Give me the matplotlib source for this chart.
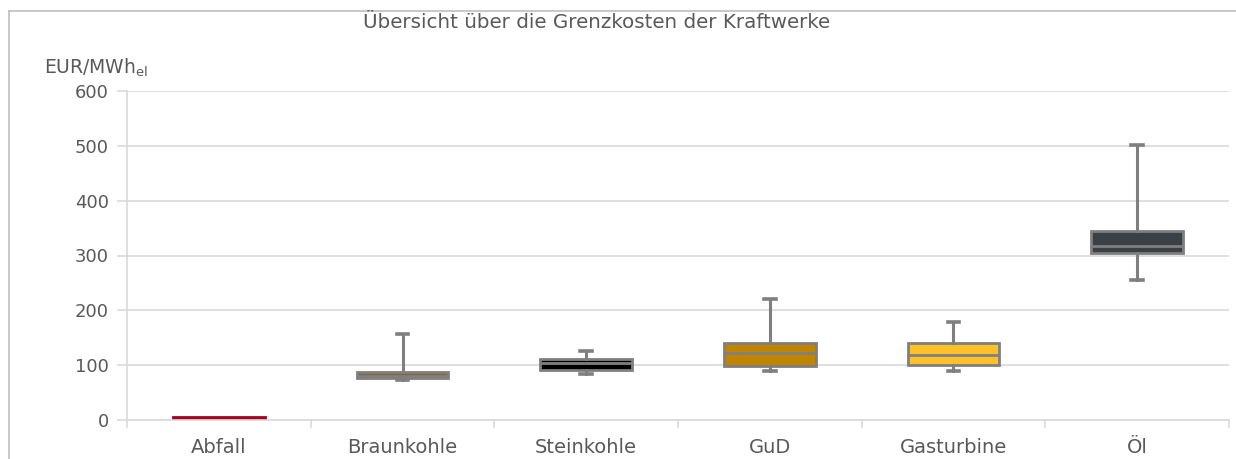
import numpy as np
import matplotlib
matplotlib.use("Agg")
import matplotlib.pyplot as plt
from matplotlib.lines import Line2D

# Grenzkosten je Kraftwerkstyp (EUR/MWh_el)
kategorien = ["Abfall", "Braunkohle", "Steinkohle", "GuD", "Gasturbine", "Öl"]
whisker_min = [1, 73, 83, 89, 89, 255]
q1 = [1, 76, 92, 99, 101, 305]
median = [4, 80, 104, 123, 118, 317]
q3 = [6, 88, 111, 141, 140, 345]
whisker_max = [6, 156, 125, 221, 179, 502]
farben = ["#A50021", "#7F6A2E", "#000000", "#BF8400", "#FFC02A", "#3B4046"]

GRAU = "#595959"
RAHMEN = "#D9D9D9"

plt.rcParams["font.family"] = "DejaVu Sans"

fig = plt.figure(figsize=(12.36, 4.59), dpi=100)
ax = fig.add_axes([127/1236, 1 - 420/459, (1229 - 127)/1236, (420 - 91)/459])

stats = []
for i, k in enumerate(kategorien):
    stats.append(dict(label=k, whislo=whisker_min[i], q1=q1[i], med=median[i],
                      q3=q3[i], whishi=whisker_max[i], fliers=[]))

bp = ax.bxp(stats, positions=np.arange(1, 7), widths=0.5, patch_artist=True,
            showfliers=False, capwidths=0.065,
            boxprops=dict(edgecolor="#7F7F7F", linewidth=2),
            whiskerprops=dict(color="#7F7F7F", linewidth=2.2),
            capprops=dict(color="#7F7F7F", linewidth=2.6),
            medianprops=dict(color="#7F7F7F", linewidth=2))
for box, c in zip(bp["boxes"], farben):
    box.set_facecolor(c)
# Abfall: nur ein dünner roter Balken
bp["boxes"][0].set_edgecolor(farben[0])
bp["medians"][0].set_color(farben[0])
for a in bp["caps"][:2] + bp["whiskers"][:2]:
    a.set_visible(False)

ax.set_xlim(0.5, 6.5)
ax.set_ylim(0, 600)
ax.set_yticks(np.arange(0, 601, 100))
ax.yaxis.grid(True, color=RAHMEN, linewidth=1.2)
ax.set_axisbelow(True)
for s in ["top", "right"]:
    ax.spines[s].set_visible(False)
for s in ["left", "bottom"]:
    ax.spines[s].set_color(RAHMEN)
    ax.spines[s].set_linewidth(1.2)
ax.set_xticks(np.arange(1, 7))
ax.set_xticklabels(kategorien)
ax.set_xticks(np.arange(0.5, 6.6, 1), minor=True)
ax.tick_params(axis="x", which="major", length=0, pad=13, labelsize=14, labelcolor=GRAU)
ax.tick_params(axis="x", which="minor", length=6, width=1.2, color=RAHMEN)
ax.tick_params(axis="y", length=7, width=1.2, color=RAHMEN, labelsize=13,
               labelcolor=GRAU, pad=6)

fig.text(597/1236, 1 - 22/459, "Übersicht über die Grenzkosten der Kraftwerke",
         ha="center", va="center", fontsize=14.3, color=GRAU)
fig.text(44/1236, 1 - 68/459, r"EUR/MWh$_\mathregular{el}$",
         ha="left", va="center", fontsize=13.5, color=GRAU)

# Diagrammrahmen (rechts und unten abgeschnitten)
x0, y0 = 8.5/1236, 1 - 10.5/459
fig.lines.append(Line2D([x0, 1.01], [y0, y0], transform=fig.transFigure,
                        color="#BFBFBF", linewidth=1.2))
fig.lines.append(Line2D([x0, x0], [y0, -0.01], transform=fig.transFigure,
                        color="#BFBFBF", linewidth=1.2))

fig.savefig("out.png", dpi=100)
